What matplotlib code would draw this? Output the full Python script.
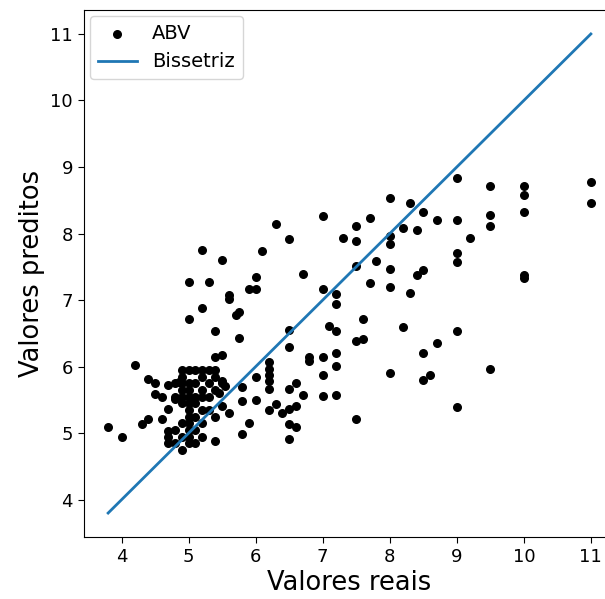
import matplotlib
matplotlib.use("Agg")
import matplotlib.pyplot as plt
import numpy as np

real_upper = [9.0, 9.5, 10, 10, 11, 11, 8.0, 8.3, 8.5, 8.7, 9.0, 9.5, 9.5, 10, 8.2, 8.4,
              8.0, 8.0, 9.2, 9.0, 9.0, 8.0, 8.5, 8.4, 8.0, 8.3, 10, 10, 8.2, 9.0, 8.7,
              8.5, 8.0, 9.5, 8.6, 8.5, 9.0]
pred_upper = [8.83, 8.71, 8.71, 8.58, 8.77, 8.46, 8.54, 8.46, 8.32, 8.21, 8.21, 8.28, 8.11,
              8.32, 8.09, 8.05, 7.97, 7.84, 7.94, 7.71, 7.57, 7.47, 7.45, 7.37, 7.19, 7.10,
              7.37, 7.33, 6.59, 6.53, 6.35, 6.20, 5.91, 5.97, 5.87, 5.80, 5.40]

real_mid = [6.1, 6.5, 7.3, 7.5, 6.7, 6.0, 5.9, 6.0, 7.0, 7.2, 7.2, 7.5, 7.8, 7.7,
            6.5, 6.5, 7.1, 7.2, 7.6, 7.5, 7.6, 6.8, 6.8, 7.0, 7.2, 7.2, 7.0, 7.2, 7.0, 7.5,
            6.2, 6.2, 6.2, 6.2, 6.2, 6.0, 5.8, 5.8, 6.0, 6.5, 6.6, 6.7, 6.3, 6.2, 6.4, 6.5,
            6.6, 5.9, 5.8, 6.5, 6.6, 6.5, 7.0, 6.3, 7.7, 7.5]
pred_mid = [7.74, 7.92, 7.93, 7.89, 7.39, 7.35, 7.16, 7.16, 7.16, 7.09, 6.94, 7.52, 7.59, 7.25,
            6.55, 6.30, 6.61, 6.53, 6.71, 6.39, 6.41, 6.15, 6.08, 6.14, 6.20, 6.01, 5.87, 5.58,
            5.56, 5.21, 6.07, 5.97, 5.87, 5.79, 5.67, 5.85, 5.69, 5.49, 5.50, 5.67, 5.76, 5.58,
            5.44, 5.35, 5.31, 5.36, 5.41, 5.15, 4.99, 5.14, 5.10, 4.92, 8.26, 8.15, 8.23, 8.11]

real_left = [5.2, 5.5, 5.0, 5.3, 5.6, 5.6, 5.2, 5.0, 5.7, 5.75, 5.4, 5.75, 5.4, 5.5, 4.2, 4.4,
             4.5, 4.7, 4.85, 4.5, 4.6, 4.7, 4.8, 4.4, 4.3, 4.6, 4.7, 4.7, 3.8, 4.0, 4.7,
             5.5, 5.55, 5.45, 5.5, 5.6, 5.4]
pred_left = [7.76, 7.61, 7.27, 7.27, 7.07, 7.01, 6.88, 6.71, 6.78, 6.82, 6.54, 6.43, 6.15, 6.17,
             6.03, 5.82, 5.76, 5.72, 5.77, 5.59, 5.54, 5.36, 5.51, 5.21, 5.14, 5.21, 5.04, 4.94,
             5.10, 4.95, 4.85, 5.79, 5.71, 5.61, 5.41, 5.31, 4.89]

real_dense = [4.9, 5.0, 5.1, 5.2, 5.3, 5.4, 4.9, 5.2, 5.4, 4.8, 4.9, 5.0, 5.1, 5.3, 5.5,
              4.9, 5.0, 5.2, 5.4, 4.8, 4.9, 5.0, 5.1, 5.2, 5.3, 4.9, 5.0, 5.1, 5.0, 5.2, 5.3,
              5.0, 5.1, 5.4, 4.9, 5.0, 5.2, 4.8, 5.0, 5.1, 4.9, 5.0, 5.2, 4.8, 5.0, 5.1, 4.9]
pred_dense = [5.95, 5.95, 5.95, 5.95, 5.95, 5.95, 5.85, 5.85, 5.85, 5.75, 5.75, 5.75, 5.75,
              5.75, 5.75, 5.65, 5.65, 5.65, 5.65, 5.55, 5.55, 5.55, 5.55, 5.55, 5.55, 5.45,
              5.45, 5.45, 5.35, 5.35, 5.35, 5.25, 5.25, 5.25, 5.15, 5.15, 5.15, 5.05, 5.05,
              5.05, 4.95, 4.95, 4.95, 4.85, 4.85, 4.85, 4.75]

real = np.array(real_upper + real_mid + real_left + real_dense)
pred = np.array(pred_upper + pred_mid + pred_left + pred_dense)

fig = plt.figure(figsize=(6.05, 5.99), dpi=100)
ax = fig.add_axes([84 / 605, 62 / 599, 531 / 605, 527 / 599])

ax.scatter(real, pred, color="black", s=30, label="ABV", zorder=2)
line_x = [real.min(), real.max()]
ax.plot(line_x, line_x, color="#1f77b4", linewidth=2.0, label="Bissetriz", zorder=3)

ax.set_xlim(3.44, 11.36)
ax.set_ylim(3.44, 11.36)
ax.set_xticks([4, 5, 6, 7, 8, 9, 10, 11])
ax.set_yticks([4, 5, 6, 7, 8, 9, 10, 11])
ax.tick_params(labelsize=13, length=4.5)
ax.set_xlabel("Valores reais", fontsize=18.5, labelpad=3)
ax.set_ylabel("Valores preditos", fontsize=18.5, labelpad=4)
ax.legend(loc="upper left", fontsize=14, borderaxespad=0.3)

fig.savefig("out.png", dpi=100)
